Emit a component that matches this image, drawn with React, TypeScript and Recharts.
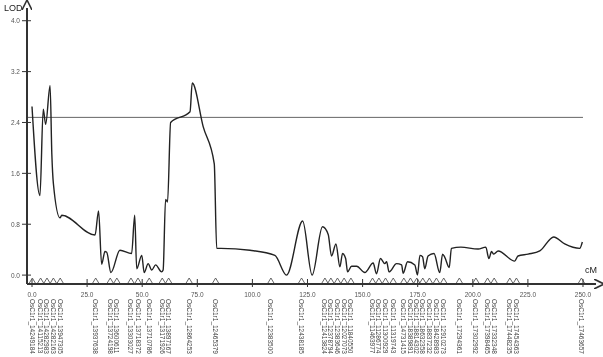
import { ComposedChart, Line, XAxis, YAxis, ReferenceLine } from "recharts";

// LOD profile along the linkage group (cM, LOD)
const profilePos = [
  0, 3.6, 5.1, 6.2, 8.2, 9.0, 9.7, 12.7, 13.5, 28.6, 30.2, 31.6, 33.1, 33.9, 35.8, 39.9, 45.2, 46.6, 47.5,
  49.8, 50.9, 52.7, 54.3, 56.1, 58.8, 59.5, 60.6, 61.5, 62.9, 71.7, 72.7, 77.7, 82.7, 83.8, 85.7, 98.9,
  110.2, 115.5, 122.8, 127.1, 131.8, 134.4, 135.9, 137.9, 139.7, 140.9, 142.3, 143.2, 145.0, 147.3, 151.0,
  154.8, 156.3, 158.1, 160.1, 160.9, 162.0, 165.4, 167.7, 168.4, 170.4, 173.7, 174.9, 176.0, 177.2, 178.2,
  179.7, 182.4, 185.0, 186.3, 187.3, 189.3, 190.3, 194.6, 202.4, 205.9, 207.3, 208.5, 209.5, 211.5, 219.0,
  220.5, 225.1, 230.4, 236.7, 241.7, 248.5, 249.7,
];
const profileLod = [
  2.65, 1.25, 2.61, 2.37, 2.98, 1.9, 1.44, 0.9, 0.94, 0.63, 1.01, 0.17, 0.37, 0.36, 0.04, 0.39, 0.34, 0.94, 0.1,
  0.31, 0.04, 0.18, 0.08, 0.16, 0.05, 0.08, 1.19, 1.15, 2.4, 2.57, 3.02, 2.33, 1.75, 0.42, 0.42, 0.39,
  0.31, 0.0, 0.85, 0.0, 0.76, 0.64, 0.3, 0.49, 0.13, 0.34, 0.26, 0.05, 0.14, 0.14, 0.04,
  0.19, 0.02, 0.26, 0.18, 0.21, 0.05, 0.18, 0.16, 0.03, 0.21, 0.16, 0.0, 0.31, 0.29, 0.1,
  0.3, 0.34, 0.04, 0.33, 0.28, 0.12, 0.42, 0.44, 0.41, 0.44, 0.26, 0.37, 0.33, 0.38, 0.22,
  0.3, 0.33, 0.38, 0.6, 0.49, 0.42, 0.52,
];

const threshold = 2.48;

const cmTicks = [0, 25, 50, 75, 100, 125, 150, 175, 200, 225, 250];
const lodTicks = [0, 0.8, 1.6, 2.4, 3.2, 4.0];

// markers on the map
const markerPos = [
  0.15, 3.9, 6.8, 9.7, 12.8, 28.9, 35.5, 38.5, 44.9, 48.1, 53.2, 59.1, 62.0, 71.3, 83.3, 108.4, 122.3,
  132.9, 135.6, 138.6, 141.6, 144.7, 154.5, 157.4, 160.4, 163.9, 168.7, 171.7, 174.6, 177.3, 180.3,
  183.5, 186.8, 193.9, 201.4, 206.7, 209.7, 216.8, 219.8, 249.3,
];
const markerNames = [
  "OsC1r1_14249184", "OsC1r1_14115213", "OsC1r1_14282983", "OsC1r1_14282163", "OsC1r1_13947305",
  "OsC1r1_13937638", "OsC1r1_13724198", "OsC1r1_13600611", "OsC1r1_13303027", "OsC1r1_13718372",
  "OsC1r1_13710786", "OsC1r1_13171926", "OsC1r1_13897167", "OsC1r1_12864253", "OsC1r1_12465379",
  "OsC1r1_12383500", "OsC1r1_12438185", "OsC1r1_12413824", "OsC1r1_12378794", "OsC1r1_12383646",
  "OsC1r1_12027073", "OsC1r1_11840550", "OsC1r1_11463977", "OsC1r1_11286774", "OsC1r1_11300929",
  "OsC1r1_11319743", "OsC1r1_14731415", "OsC1r1_18389891", "OsC1r1_18814302", "OsC1r1_18632358",
  "OsC1r1_18837232", "OsC1r1_18428983", "OsC1r1_12910273", "OsC1r1_17294361", "OsC1r1_17302992",
  "OsC1r1_17398465", "OsC1r1_17332348", "OsC1r1_17448235", "OsC1r1_17454363", "OsC1r1_17463657",
];

const data = profilePos.map((cM, i) => ({ cM, lod: profileLod[i] }));
const markerMap = new Map(markerPos.map((p, i) => [p, markerNames[i]]));
const allXTicks = [...cmTicks, ...markerPos].sort((a, b) => a - b);

const XTick = (props: any) => {
  const { x, y, payload } = props;
  const v = payload.value;
  const name = markerMap.get(v);
  if (name) {
    return (
      <g>
        <path d={`M${x - 3},${y - 1}L${x},${y - 6}L${x + 3},${y - 1}`} fill="none" stroke="#555" strokeWidth={0.9} />
        <text
          x={x}
          y={y + 15}
          transform={`rotate(90, ${x}, ${y + 15})`}
          fontSize={6.5}
          fill="#444"
          textAnchor="start"
          dominantBaseline="central"
        >
          {name}
        </text>
      </g>
    );
  }
  return (
    <g>
      <line x1={x} x2={x} y1={y - 5} y2={y + 3} stroke="#333" strokeWidth={1} />
      <text x={x} y={y + 10} fontSize={6.5} fill="#555" textAnchor="middle" dominantBaseline="central">
        {v.toFixed(1)}
      </text>
    </g>
  );
};

const YTick = (props: any) => {
  const { x, y, payload } = props;
  return (
    <g>
      <line x1={x - 5} x2={x + 4} y1={y} y2={y} stroke="#333" strokeWidth={1} />
      <text x={x - 7} y={y} fontSize={6.5} fill="#555" textAnchor="end" dominantBaseline="central">
        {payload.value.toFixed(1)}
      </text>
    </g>
  );
};

export default function App() {
  return (
    <div style={{ position: "fixed", left: 0, top: 0 }}>
      <ComposedChart
        width={603}
        height={357}
        data={data}
        margin={{ top: 8, right: 7, left: 0, bottom: 0 }}
        style={{ fontFamily: "'Liberation Sans', Arial, sans-serif" }}
      >
        <defs>
          <marker id="arrowHead" viewBox="0 0 10 10" refX="2" refY="5" markerWidth="5" markerHeight="5" orient="auto-start-reverse">
            <path d="M0,0L10,5L0,10" fill="none" stroke="#333" strokeWidth={1.6} />
          </marker>
        </defs>
        <XAxis
          dataKey="cM"
          type="number"
          domain={[-2.27, 255.9]}
          ticks={allXTicks}
          interval={0}
          tickSize={0}
          tickMargin={0}
          tickLine={false}
          tick={<XTick />}
          height={73}
          axisLine={{ stroke: "#333", strokeWidth: 2, markerEnd: "url(#arrowHead)" }}
          allowDataOverflow
        />
        <YAxis
          type="number"
          domain={[-0.14, 4.2]}
          ticks={lodTicks}
          interval={0}
          tickSize={0}
          tickMargin={0}
          tickLine={false}
          tick={<YTick />}
          width={27}
          axisLine={{ stroke: "#333", strokeWidth: 2, markerStart: "url(#arrowHead)" }}
          allowDataOverflow
        />
        <ReferenceLine
          segment={[{ x: -2.27, y: threshold }, { x: 250, y: threshold }]}
          stroke="#666"
          strokeWidth={1}
        />
        <Line
          type="monotone"
          dataKey="lod"
          stroke="#222"
          strokeWidth={1.4}
          dot={false}
          isAnimationActive={false}
        />
        <text x={4} y={11} fontSize={9} fill="#222">LOD</text>
        <text x={585} y={273} fontSize={9} fill="#222">cM</text>
      </ComposedChart>
    </div>
  );
}
